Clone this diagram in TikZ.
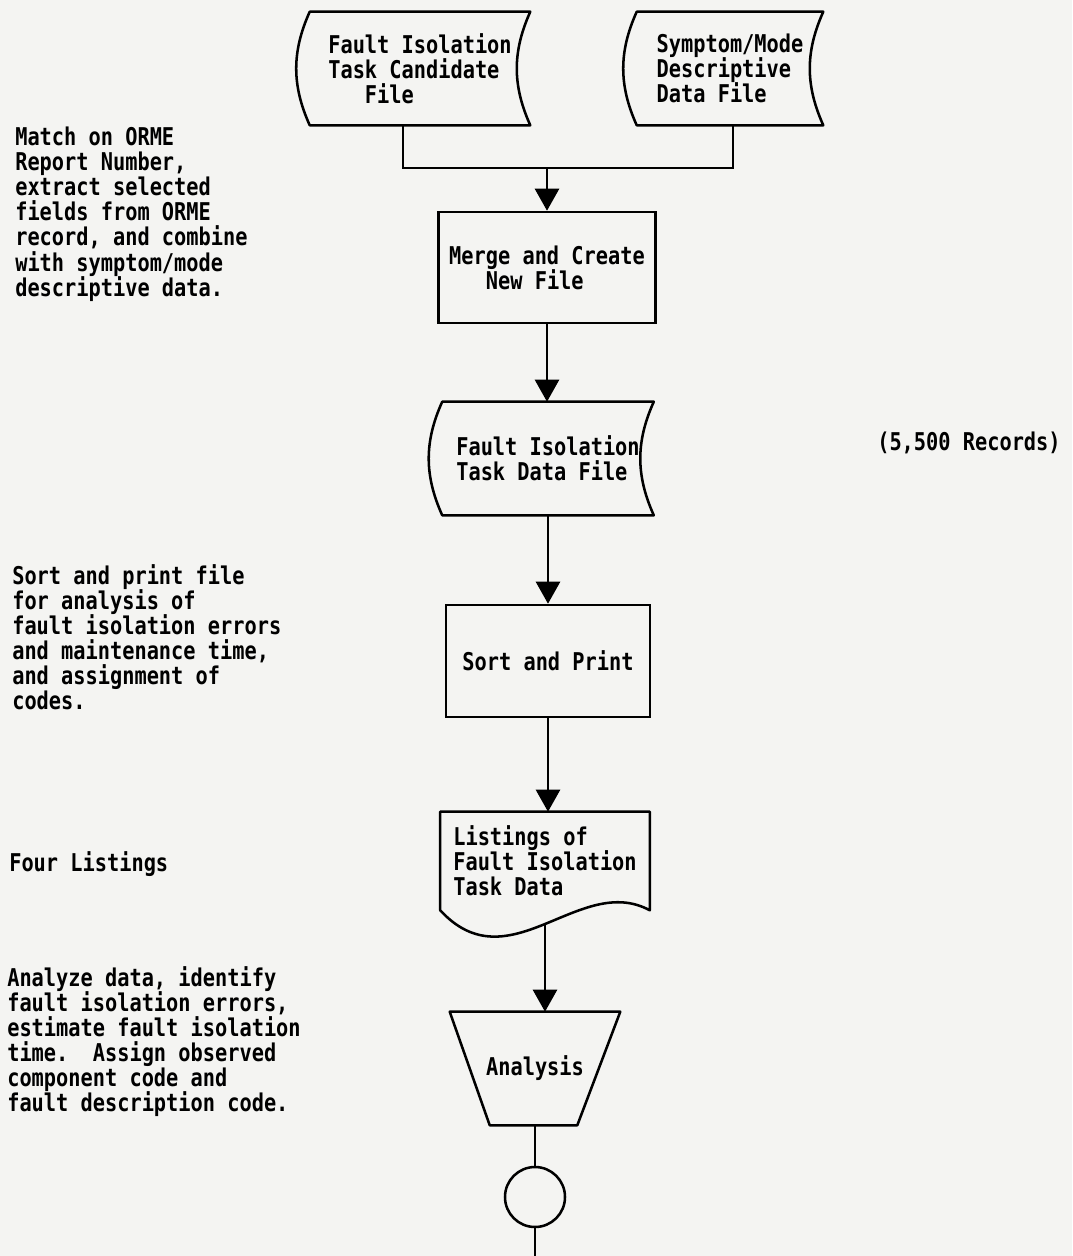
\documentclass[tikz,border=0pt]{standalone}
\usepackage{fontspec}
\newfontfamily\gothic[FakeStretch=0.83]{DejaVu Sans Mono}
\usetikzlibrary{arrows.meta}
\definecolor{paper}{RGB}{244,244,242}
\def\pxl{0.025cm}

\begin{document}
\begin{tikzpicture}[
    x=0.025cm, y=-0.025cm,
    every node/.style={font=\gothic\bfseries\fontsize{17.4pt}{17.8pt}\selectfont},
    blk/.style={inner sep=0pt, align=left},
    procbox/.style={blk, draw, line width=1.8pt},
    outline/.style={line width=1.8pt, line join=round},
    flow/.style={line width=1.8pt},
    flowarrow/.style={flow, -{Triangle[width=0.6cm, length=0.55cm]}},
    note/.style={anchor=north west, inner sep=0pt, align=left}
  ]
  \fill[paper] (0,0) rectangle (1072,1256);
  \useasboundingbox (0,0) rectangle (1072,1256);

  % input files
  \node[blk, minimum width=220*\pxl, minimum height=113*\pxl] (cand) at (420,68.5)
    {Fault Isolation\\Task Candidate\\\hphantom{xxx}File};
  \node[blk, minimum width=186*\pxl, minimum height=113*\pxl] (symp) at (730,68.5)
    {Symptom/Mode\\Descriptive\\Data File};

  % main column
  \node[procbox, minimum width=217*\pxl, minimum height=111*\pxl] (merge) at (547,267.5)
    {Merge and Create\\\hphantom{xxx}New File};
  \node[blk, minimum width=211*\pxl, minimum height=113*\pxl] (tdf) at (548,458.5)
    {Fault Isolation\\Task Data File};
  \node[procbox, minimum width=204*\pxl, minimum height=112*\pxl] (sortp) at (548,661)
    {Sort and Print};
  \node[blk, minimum width=209*\pxl, minimum height=98*\pxl] (lst) at (545,861)
    {Listings of\\Fault Isolation\\Task Data};
  \node[blk, minimum width=170*\pxl, minimum height=113*\pxl] (anl) at (535,1068.5)
    {Analysis};
  \node[circle, draw, line width=1.8pt, minimum size=60*\pxl] (conn) at (535,1197) {};
  \coordinate (tail) at (535,1256);
  \coordinate (bus) at (547,168);

  % stored data outlines
  \foreach \s in {cand,symp,tdf} {
    \draw[outline] (\s.north west) -- (\s.north east)
      .. controls +(-18,40) and +(-18,-40) .. (\s.south east)
      -- (\s.south west)
      .. controls +(-18,-40) and +(-18,40) .. (\s.north west) -- cycle;
  }
  % printed listing
  \draw[outline] (lst.south west) .. controls +(69,75) and +(-70,-38) .. (lst.south east)
    -- (lst.north east) -- (lst.north west) -- cycle;
  % manual operation
  \draw[outline] (anl.north west) -- (anl.north east)
    -- ([xshift=-43*\pxl]anl.south east) -- ([xshift=40*\pxl]anl.south west) -- cycle;

  % connectors
  \draw[flow] ([xshift=-17*\pxl]cand.south) |- (bus) -| ([xshift=3*\pxl]symp.south);
  \draw[flowarrow] (bus) -- (merge.north);
  \draw[flowarrow] (merge.south) -- (merge.south |- tdf.north);
  \draw[flowarrow] (tdf.south) -- (tdf.south |- sortp.north);
  \draw[flowarrow] (sortp.south) -- (sortp.south |- lst.north);
  \draw[flowarrow] ([yshift=-13*\pxl]lst.south) -- (lst.south |- anl.north);
  \draw[flow] (anl.south) -- (conn.north);
  \draw[flow] (conn.south) -- (tail);

  % side notes
  \foreach \nm/\x/\y/\txt in {%
    matchnote/15/127/{Match on ORME\\Report Number,\\extract selected\\fields from ORME\\record, and combine\\with symptom/mode\\descriptive data.},
    sortnote/12/564/{Sort and print file\\for analysis of\\fault isolation errors\\and maintenance time,\\and assignment of\\codes.},
    listnote/9/851/{Four Listings},
    anlnote/7/966/{Analyze data, identify\\fault isolation errors,\\estimate fault isolation\\time.\ \ Assign observed\\component code and\\fault description code.},
    recnote/877/432/{(5,500 Records)}%
  }{
    \node[note] (\nm) at (\x,\y) {\txt};
  }
\end{tikzpicture}
\end{document}
